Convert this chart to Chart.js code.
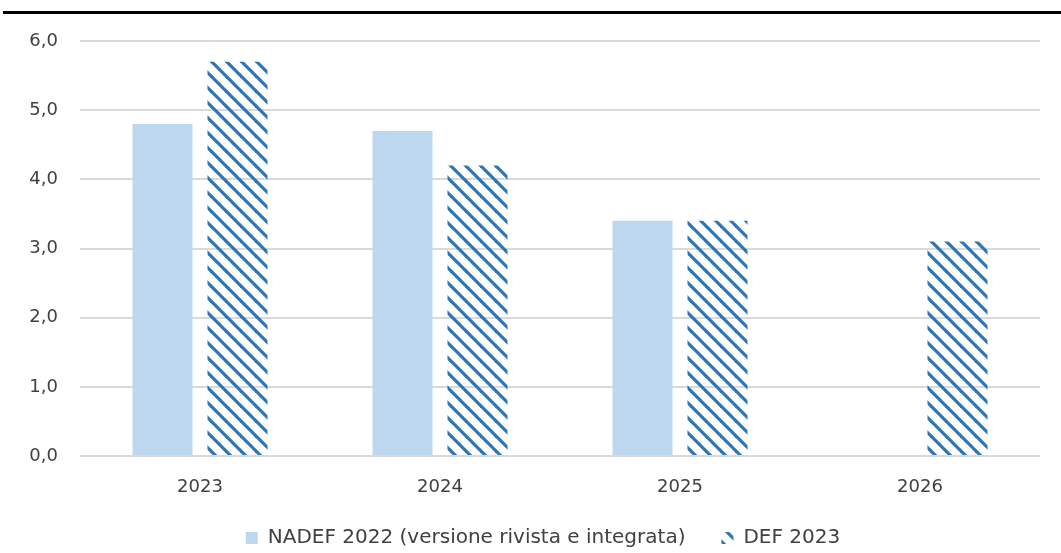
<!DOCTYPE html>
<html>
<head>
<meta charset="utf-8">
<script src="https://cdn.jsdelivr.net/npm/chart.js@4/dist/chart.umd.min.js"></script>
<style>
  html, body { margin: 0; padding: 0; background: #fff; overflow: hidden; }
  #wrap { position: relative; width: 1061px; height: 553px; overflow: hidden; }
  #rule { position: absolute; left: 3px; right: 0; top: 11px; height: 3px; background: #000; }
  #chart { position: absolute; left: 0; top: 0; }
</style>
</head>
<body>
<div id="wrap">
  <div id="rule"></div>
  <canvas id="chart" width="1061" height="571"></canvas>
</div>
<script>
const years = ['2023', '2024', '2025', '2026'];
const nadef2022 = [4.8, 4.7, 3.4, null];
const def2023 = [5.7, 4.2, 3.4, 3.1];
const yTicks = [0, 1, 2, 3, 4, 5, 6];

// righe diagonali blu per la serie DEF 2023
function hatch(color) {
    const size = 15;
    const c = document.createElement('canvas');
    c.width = size;
    c.height = size;
    const ctx = c.getContext('2d');
    ctx.strokeStyle = color;
    ctx.lineWidth = 3.2;
    for (let o = -size; o <= size; o += size) {
        ctx.beginPath();
        ctx.moveTo(o - 2, -2);
        ctx.lineTo(o + size + 2, size + 2);
        ctx.stroke();
    }
    return c.getContext('2d').createPattern(c, 'repeat');
}

// la legenda va un po' più in alto e più a destra rispetto al layout standard
const legendPlacement = {
    id: 'legendPlacement',
    afterLayout(chart) {
        const lg = chart.legend;
        const h = lg.bottom - lg.top;
        lg.top = 492;
        lg.bottom = lg.top + h;
        lg.left += 23;
        lg.right += 23;
    }
};

const tickFont = { family: 'DejaVu Sans', size: 18 };
const legendFont = { family: 'DejaVu Sans', size: 20 };

new Chart(document.getElementById('chart').getContext('2d'), {
    type: 'bar',
    data: {
        labels: years,
        datasets: [
            {
                label: 'NADEF 2022 (versione rivista e integrata)',
                data: nadef2022,
                backgroundColor: '#BDD7EE',
                borderWidth: 0
            },
            {
                label: 'DEF 2023',
                data: def2023,
                backgroundColor: hatch('#2E75B6'),
                borderWidth: 0
            }
        ]
    },
    plugins: [legendPlacement],
    options: {
        responsive: false,
        animation: false,
        layout: { padding: { top: 41, right: 21, bottom: 0, left: 0 } },
        datasets: { bar: { categoryPercentage: 0.625, barPercentage: 0.8 } },
        plugins: {
            tooltip: { enabled: false },
            legend: {
                position: 'bottom',
                labels: {
                    color: '#404040',
                    font: legendFont,
                    boxWidth: 12,
                    boxHeight: 12,
                    padding: 36
                }
            }
        },
        scales: {
            x: {
                afterFit: function(scale) { scale.height = 49; },
                grid: { display: false },
                border: { display: false },
                ticks: { color: '#404040', font: tickFont, padding: 13 }
            },
            y: {
                min: 0,
                max: 6,
                afterFit: function(scale) { scale.width = 80; },
                afterBuildTicks: function(scale) {
                    scale.ticks = yTicks.map(v => ({ value: v }));
                },
                grid: { color: '#D9D9D9', lineWidth: 2, drawTicks: false },
                border: { display: false },
                ticks: {
                    color: '#404040',
                    font: tickFont,
                    padding: 22,
                    callback: v => v.toFixed(1).replace('.', ',')
                }
            }
        }
    }
});
</script>
</body>
</html>
